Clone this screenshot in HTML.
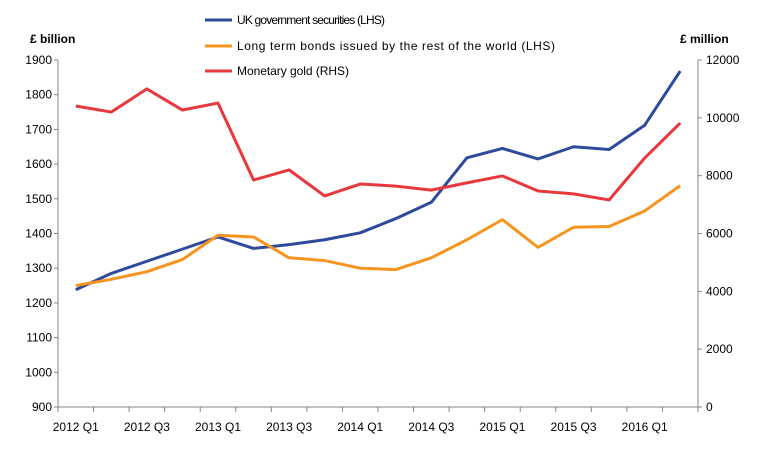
<!DOCTYPE html>
<html><head><meta charset="utf-8"><style>
body{margin:0;background:#fff;font-family:"Liberation Sans",sans-serif;}
svg text{font-family:"Liberation Sans",sans-serif;font-size:12px;fill:#000;}
</style></head><body>
<svg id="chart" width="758" height="456"></svg>
<script>
const categories=["2012 Q1","2012 Q2","2012 Q3","2012 Q4","2013 Q1","2013 Q2","2013 Q3","2013 Q4","2014 Q1","2014 Q2","2014 Q3","2014 Q4","2015 Q1","2015 Q2","2015 Q3","2015 Q4","2016 Q1","2016 Q2"];
const ukGov=[1238,1285,1320,1355,1390,1357,1368,1382,1402,1443,1490,1618,1645,1615,1650,1642,1712,1868];
const bonds=[1250,1268,1290,1325,1395,1390,1330,1322,1300,1296,1330,1382,1440,1360,1418,1420,1465,1538];
const gold=[10410,10200,11000,10270,10510,7850,8200,7300,7710,7640,7500,7750,7990,7470,7370,7160,8610,9820];
const leftTicks=[900,1000,1100,1200,1300,1400,1500,1600,1700,1800,1900];
const rightTicks=[0,2000,4000,6000,8000,10000,12000];
const NS="http://www.w3.org/2000/svg";
const svg=document.getElementById('chart');
const X0=58,X1=698,Y0=407,Y1=60;
const step=(X1-X0)/categories.length;
const xc=i=>X0+step*(i+0.5);
const yL=v=>Y0-(v-900)/1000*(Y0-Y1);
const yR=v=>Y0-v/12000*(Y0-Y1);
function mk(t,a){const e=document.createElementNS(NS,t);for(const k in a)e.setAttribute(k,a[k]);svg.appendChild(e);return e;}
let e;
e=mk('line',{x1:X0,y1:Y0,x2:X1,y2:Y0,stroke:'#868686'});


e=mk('line',{x1:X0,y1:Y1,x2:X0,y2:Y0,stroke:'#868686'});


e=mk('line',{x1:X1,y1:Y1,x2:X1,y2:Y0,stroke:'#868686'});


leftTicks.forEach(v=>{
 mk('line',{x1:X0-4,y1:yL(v),x2:X0,y2:yL(v),stroke:'#868686'});
 e=mk('text',{x:X0-6,y:yL(v)+4,'text-anchor':'end'});e.textContent=v;
 
 
});
rightTicks.forEach(v=>{
 mk('line',{x1:X1,y1:yR(v),x2:X1+4,y2:yR(v),stroke:'#868686'});
 e=mk('text',{x:X1+8,y:yR(v)+4,'text-anchor':'start'});e.textContent=v;
 
 
});
for(let i=0;i<=categories.length;i++){mk('line',{x1:X0+step*i,y1:Y0,x2:X0+step*i,y2:Y0+5,stroke:'#868686'});}
categories.forEach((c,i)=>{if(i%2==0){e=mk('text',{x:xc(i),y:Y0+24,'text-anchor':'middle'});e.textContent=c;
 
 }});
e=mk('text',{x:30,y:43,'font-weight':'bold'});e.textContent='£ billion';


e=mk('text',{x:680,y:43,'font-weight':'bold'});e.textContent='£ million';


function series(vals,f,col,name){
 e=mk('polyline',{points:vals.map((v,i)=>xc(i)+','+f(v)).join(' '),fill:'none',stroke:col,'stroke-width':3,'stroke-linejoin':'round'});
 
 
}
series(ukGov,yL,'#2e4a9c','uk-gov-securities-line');
series(bonds,yL,'#f7941d','long-term-bonds-line');
series(gold,yR,'#e8383d','monetary-gold-line');
const leg=[['UK government securities (LHS)','#2e4a9c',20,148],['Long term bonds issued by the rest of the world (LHS)','#f7941d',46,318],['Monetary gold (RHS)','#e8383d',71,112]];
leg.forEach(l=>{
 e=mk('line',{x1:205,y1:l[2],x2:232,y2:l[2],stroke:l[1],'stroke-width':3});
 
 
 e=mk('text',{x:237,y:l[2]+4,textLength:l[3],lengthAdjust:'spacing'});e.textContent=l[0];
 
 
});
</script>
</body></html>
